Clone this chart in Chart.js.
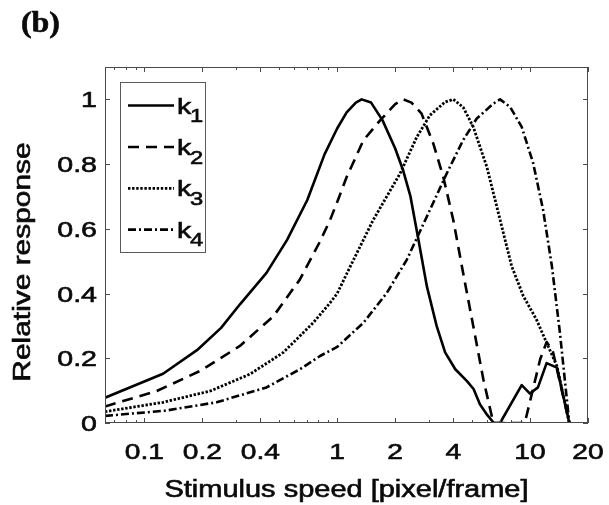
<!DOCTYPE html>
<html>
<head>
<meta charset="utf-8">
<script src="https://cdn.jsdelivr.net/npm/chart.js@4.4.1/dist/chart.umd.min.js"></script>
<style>
    body { margin: 0; background: #ffffff; }
    canvas { display: block; }
</style>
</head>
<body>
<canvas id="graficoResposta" width="609" height="505"></canvas>
<script>
/* DADOS DO GRAFICO */
let velocidadesK1 = [0.0625, 0.125, 0.1875, 0.25, 0.3125, 0.43, 0.55, 0.70, 0.86, 1.0, 1.12, 1.25, 1.34, 1.5, 1.72, 2.0, 2.2, 2.4, 2.64, 2.92, 3.28, 3.63, 4.1, 4.7, 5.1, 5.5, 6.0, 6.5, 7.0, 9.06, 10, 11.0, 12.2, 13.8, 16];
let respostasK1 = [0.078, 0.152, 0.225, 0.294, 0.366, 0.464, 0.566, 0.689, 0.83, 0.91, 0.96, 0.99, 1.0, 0.99, 0.935, 0.848, 0.78, 0.70, 0.566, 0.422, 0.30, 0.218, 0.166, 0.13, 0.105, 0.058, 0.025, 0.0, 0.0, 0.117, 0.091, 0.11, 0.185, 0.171, 0.0];

let velocidadesK2 = [0.0625, 0.116, 0.195, 0.313, 0.467, 0.64, 0.815, 0.92, 1.01, 1.12, 1.37, 1.67, 2.0, 2.2, 2.43, 2.74, 3.15, 3.55, 4.0, 4.5, 5.08, 5.73, 6.46, 9.4, 11.3, 12.2, 13.1, 16];
let respostasK2 = [0.051, 0.099, 0.161, 0.238, 0.33, 0.443, 0.561, 0.628, 0.689, 0.76, 0.874, 0.935, 0.985, 1.0, 0.99, 0.956, 0.864, 0.761, 0.628, 0.464, 0.30, 0.135, 0.0, 0.0, 0.197, 0.25, 0.225, 0.0];

let velocidadesK3 = [0.0625, 0.125, 0.22, 0.353, 0.526, 0.752, 0.918, 1.0, 1.17, 1.54, 2.12, 2.59, 3.03, 3.63, 4.0, 4.5, 5.08, 5.97, 7.0, 8.04, 9.24, 10.8, 12.2, 13.8, 16];
let respostasK3 = [0.035, 0.064, 0.099, 0.151, 0.218, 0.31, 0.371, 0.40, 0.484, 0.628, 0.771, 0.884, 0.951, 0.992, 1.0, 0.976, 0.915, 0.792, 0.628, 0.484, 0.392, 0.32, 0.248, 0.176, 0.0];

let velocidadesK4 = [0.0625, 0.128, 0.237, 0.43, 0.641, 0.815, 1.0, 1.37, 1.81, 2.3, 2.92, 3.7, 4.5, 5.3, 6.46, 7.0, 7.9, 9.06, 10.4, 11.7, 13.0, 14.3, 16];
let respostasK4 = [0.022, 0.038, 0.064, 0.11, 0.166, 0.207, 0.235, 0.31, 0.402, 0.505, 0.638, 0.771, 0.874, 0.941, 0.987, 1.0, 0.976, 0.915, 0.802, 0.658, 0.484, 0.279, 0.0];

let nomesSeries = ['1', '2', '3', '4'];
let ticksX = [0.1, 0.2, 0.4, 1, 2, 4, 10, 20];
let rotulosX = ['0.1', '0.2', '0.4', '1', '2', '4', '10', '20'];
let ticksY = [0, 0.2, 0.4, 0.6, 0.8, 1];
let rotulosY = ['0', '0.2', '0.4', '0.6', '0.8', '1'];

const FONTE = '"Liberation Sans", Arial, sans-serif';

// junta x e y em pontos para o Chart.js
function montarPontos(velocidades, respostas) {
    let pontos = [];
    for (i = 0; i < velocidades.length; i++) {
        pontos.push({ x: velocidades[i], y: respostas[i] });
    }
    return pontos;
}

// escreve texto esticado ao longo da direcao do texto (a fonte da figura e larga)
function textoEsticado(ctx, texto, x, y, alinhamento, fator, rotacao) {
    ctx.save();
    ctx.translate(x, y);
    if (rotacao) ctx.rotate(rotacao);
    ctx.scale(fator, 1);
    ctx.textAlign = alinhamento;
    ctx.textBaseline = 'alphabetic';
    ctx.fillText(texto, 0, 0);
    // contorno fino para engrossar um pouco, como na figura
    ctx.lineWidth = 0.6;
    ctx.strokeStyle = ctx.fillStyle;
    ctx.strokeText(texto, 0, 0);
    ctx.restore();
}

// plugin que desenha caixa, ticks para dentro, rotulos, legenda e "(b)"
const desenhoEstiloMatlab = {
    id: 'estiloMatlab',
    afterDatasetsDraw(chart) {
        const ctx = chart.ctx;
        const area = chart.chartArea;
        const escalaX = chart.scales.x;
        const escalaY = chart.scales.y;

        ctx.save();
        // caixa dos eixos
        ctx.strokeStyle = '#4a4a4a';
        ctx.lineWidth = 1;
        ctx.setLineDash([]);
        ctx.strokeRect(area.left + 0.5, area.top + 0.5, area.right - area.left - 1, area.bottom - area.top - 1);

        // ticks do eixo x (maiores e menores), embaixo e em cima
        ctx.beginPath();
        for (let dec = 0.01; dec <= 10; dec *= 10) {
            for (let m = 1; m <= 9; m++) {
                let v = m * dec;
                if (v < escalaX.min || v > escalaX.max) continue;
                let maior = ticksX.some(t => Math.abs(t - v) < 1e-9);
                let tam = maior ? 5 : 3;
                let px = Math.round(escalaX.getPixelForValue(v)) + 0.5;
                ctx.moveTo(px, area.bottom);
                ctx.lineTo(px, area.bottom - tam);
                ctx.moveTo(px, area.top);
                ctx.lineTo(px, area.top + tam);
            }
        }
        // ticks do eixo y, esquerda e direita
        ticksY.forEach(function (v) {
            let py = Math.round(escalaY.getPixelForValue(v)) + 0.5;
            ctx.moveTo(area.left, py);
            ctx.lineTo(area.left + 5, py);
            ctx.moveTo(area.right, py);
            ctx.lineTo(area.right - 5, py);
        });
        ctx.stroke();

        // rotulos dos ticks
        ctx.fillStyle = '#0a0a0a';
        ctx.font = '22px ' + FONTE;
        ticksX.forEach(function (v, idx) {
            textoEsticado(ctx, rotulosX[idx], escalaX.getPixelForValue(v), 459, 'center', 1.28);
        });
        ticksY.forEach(function (v, idx) {
            textoEsticado(ctx, rotulosY[idx], 97, escalaY.getPixelForValue(v) + 8, 'right', 1.3);
        });

        // titulos dos eixos
        ctx.font = '23px ' + FONTE;
        textoEsticado(ctx, 'Stimulus speed [pixel/frame]', (area.left + area.right) / 2, 497, 'center', 1.26);
        textoEsticado(ctx, 'Relative response', 30, 262, 'center', 1.3, -Math.PI / 2);

        // "(b)"
        ctx.font = 'bold 29px "Liberation Serif", "Times New Roman", serif';
        textoEsticado(ctx, '(b)', 21, 32, 'left', 1.1);

        // legenda
        ctx.fillStyle = '#ffffff';
        ctx.fillRect(120, 82, 85, 170);
        ctx.strokeStyle = '#5a5a5a';
        ctx.lineWidth = 1;
        ctx.strokeRect(120.5, 82.5, 85, 170);
        let linhasY = [105.5, 147, 188.3, 229.6];
        chart.data.datasets.forEach(function (ds, idx) {
            let yl = linhasY[idx];
            ctx.strokeStyle = ds.borderColor;
            ctx.lineWidth = ds.borderWidth;
            ctx.setLineDash(ds.borderDash || []);
            ctx.beginPath();
            ctx.moveTo(128, yl);
            ctx.lineTo(174, yl);
            ctx.stroke();
            ctx.setLineDash([]);
            ctx.fillStyle = '#0a0a0a';
            ctx.font = '22px ' + FONTE;
            textoEsticado(ctx, 'k', 177, yl + 8, 'left', 1.3);
            ctx.font = '19px ' + FONTE;
            textoEsticado(ctx, nomesSeries[idx], 190, yl + 16.5, 'left', 1.25);
        });
        ctx.restore();
    }
};

function plotarGrafico() {
    let dados = {
        datasets: [
            { label: 'k1', data: montarPontos(velocidadesK1, respostasK1), borderColor: '#000000', borderWidth: 2.6, borderDash: [] },
            { label: 'k2', data: montarPontos(velocidadesK2, respostasK2), borderColor: '#000000', borderWidth: 2.6, borderDash: [11, 7] },
            { label: 'k3', data: montarPontos(velocidadesK3, respostasK3), borderColor: '#000000', borderWidth: 2.8, borderDash: [2.4, 1.7] },
            { label: 'k4', data: montarPontos(velocidadesK4, respostasK4), borderColor: '#000000', borderWidth: 2.6, borderDash: [8, 3, 2, 3] }
        ]
    };

    const config = {
        type: 'line',
        data: dados,
        options: {
            responsive: false,
            animation: false,
            layout: { padding: { top: 67, right: 21, left: 0, bottom: 0 } },
            elements: {
                point: { radius: 0 },
                line: { tension: 0, borderCapStyle: 'butt', borderJoinStyle: 'round' }
            },
            scales: {
                x: {
                    type: 'logarithmic',
                    min: 0.0625,
                    max: 20,
                    grid: { display: false },
                    border: { display: false },
                    ticks: { display: false },
                    afterFit: function (escala) { escala.height = 82; }
                },
                y: {
                    min: 0,
                    max: 1.1,
                    grid: { display: false },
                    border: { display: false },
                    ticks: { display: false },
                    afterFit: function (escala) { escala.width = 105; }
                }
            },
            plugins: {
                legend: { display: false },
                title: { display: false },
                tooltip: { enabled: false }
            }
        },
        plugins: [desenhoEstiloMatlab]
    };

    var grafico = new Chart(document.getElementById('graficoResposta').getContext('2d'), config);
}

plotarGrafico();
</script>
</body>
</html>
